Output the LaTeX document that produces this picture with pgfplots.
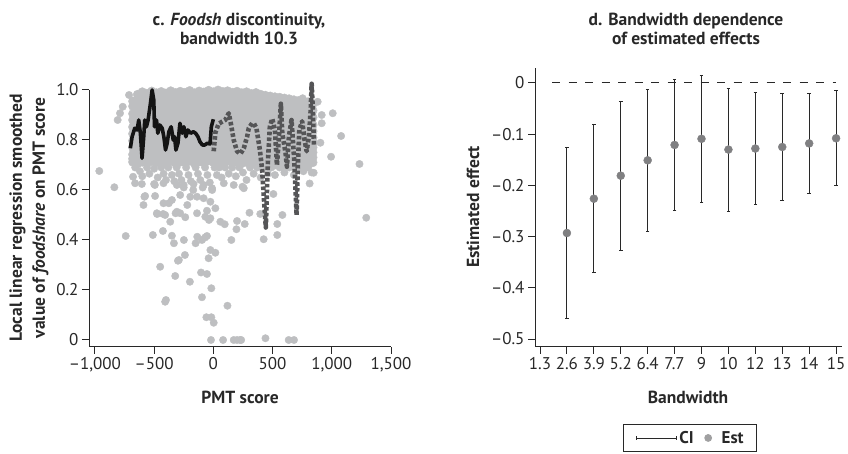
\documentclass[border=0pt]{standalone}
\usepackage{pgfplots}
\pgfplotsset{compat=1.18}
\usepackage{pgfplotstable}
\usepackage{fontspec}
\setmainfont{PT Sans}
\definecolor{scat}{RGB}{190,191,193}
\definecolor{dashg}{RGB}{85,85,87}
\definecolor{estg}{RGB}{128,128,130}
\definecolor{axg}{RGB}{40,40,40}

\pgfplotstableread{
x y1 y2 y3 y4 y5 y6 y7 y8 y9 y10 y11
-680 0.955 0.935 0.905 0.880 0.852 0.825 0.797 0.770 0.742 0.725 0.712
-640 0.982 0.958 0.930 0.903 0.875 0.848 0.818 0.790 0.762 0.735 0.705
-600 0.992 0.965 0.937 0.909 0.880 0.853 0.824 0.797 0.768 0.740 0.712
-560 0.986 0.959 0.931 0.904 0.876 0.847 0.820 0.791 0.763 0.736 0.707
-520 0.995 0.967 0.938 0.910 0.882 0.854 0.826 0.798 0.770 0.742 0.714
-480 0.988 0.960 0.932 0.905 0.877 0.849 0.821 0.793 0.765 0.737 0.709
-440 0.993 0.964 0.936 0.908 0.880 0.852 0.824 0.796 0.768 0.739 0.711
-400 0.987 0.961 0.933 0.905 0.876 0.848 0.820 0.792 0.764 0.736 0.706
-360 0.996 0.968 0.939 0.911 0.883 0.855 0.827 0.799 0.771 0.743 0.715
-320 0.989 0.962 0.934 0.906 0.878 0.850 0.822 0.794 0.766 0.738 0.708
-280 0.994 0.966 0.937 0.909 0.881 0.853 0.825 0.797 0.769 0.741 0.712
-240 0.990 0.963 0.935 0.907 0.879 0.851 0.823 0.795 0.767 0.739 0.710
-200 0.997 0.969 0.940 0.912 0.884 0.856 0.828 0.800 0.772 0.744 0.716
-160 0.988 0.961 0.933 0.905 0.877 0.849 0.821 0.793 0.765 0.737 0.707
-120 0.995 0.967 0.938 0.910 0.882 0.854 0.826 0.798 0.770 0.742 0.713
-80 0.991 0.963 0.935 0.907 0.879 0.851 0.823 0.795 0.767 0.739 0.709
-40 0.998 0.970 0.941 0.913 0.885 0.857 0.829 0.801 0.773 0.745 0.717
0 0.992 0.964 0.936 0.908 0.880 0.852 0.824 0.796 0.768 0.740 0.711
40 0.999 0.970 0.942 0.914 0.886 0.858 0.830 0.802 0.774 0.746 0.718
80 0.993 0.965 0.937 0.909 0.881 0.853 0.825 0.797 0.769 0.741 0.712
120 0.996 0.968 0.940 0.912 0.884 0.856 0.828 0.800 0.772 0.744 0.716
160 0.990 0.962 0.934 0.906 0.878 0.850 0.822 0.794 0.766 0.738 0.709
200 0.994 0.966 0.938 0.910 0.882 0.854 0.826 0.798 0.770 0.742 0.713
240 0.988 0.960 0.932 0.904 0.876 0.848 0.820 0.792 0.764 0.736 0.707
280 0.992 0.964 0.936 0.908 0.880 0.852 0.824 0.796 0.768 0.740 0.711
320 0.985 0.958 0.930 0.902 0.874 0.846 0.818 0.790 0.762 0.734 0.706
360 0.989 0.962 0.934 0.906 0.878 0.850 0.822 0.794 0.766 0.738 0.710
400 0.982 0.956 0.928 0.900 0.872 0.844 0.816 0.788 0.760 0.732 0.705
440 0.978 0.952 0.925 0.898 0.871 0.843 0.815 0.787 0.759 0.731 0.704
480 0.975 0.949 0.922 0.895 0.868 0.840 0.812 0.784 0.756 0.728 0.702
520 0.972 0.947 0.920 0.893 0.866 0.838 0.810 0.782 0.754 0.727 0.701
560 0.970 0.944 0.917 0.890 0.863 0.836 0.808 0.780 0.752 0.725 0.700
600 0.967 0.941 0.914 0.887 0.860 0.833 0.806 0.778 0.750 0.723 0.699
640 0.964 0.938 0.911 0.884 0.857 0.830 0.803 0.776 0.748 0.721 0.697
680 0.960 0.934 0.908 0.881 0.854 0.827 0.800 0.773 0.746 0.719 0.696
720 0.957 0.931 0.905 0.878 0.851 0.824 0.797 0.770 0.743 0.717 0.700
760 0.955 0.929 0.902 0.875 0.848 0.821 0.794 0.767 0.741 0.716 0.702
800 0.952 0.926 0.899 0.872 0.845 0.818 0.791 0.765 0.740 0.720 0.705
840 0.945 0.918 0.890 0.860 0.835 0.810 0.790 0.770 0.750 0.730 0.710
}\dense

\pgfplotstableread{
x y
-660 0.690
-620 0.675
-600 0.655
-560 0.690
-540 0.665
-500 0.685
-470 0.650
-440 0.690
-420 0.665
-400 0.640
-380 0.690
-350 0.660
-330 0.635
-310 0.690
-290 0.665
-270 0.640
-250 0.610
-230 0.690
-210 0.660
-190 0.635
-170 0.600
-150 0.690
-130 0.665
-110 0.640
-90 0.610
-70 0.690
-50 0.660
-30 0.630
-10 0.600
10 0.690
30 0.660
50 0.690
70 0.650
100 0.690
130 0.665
160 0.690
190 0.655
220 0.690
250 0.670
280 0.640
310 0.690
340 0.665
370 0.690
400 0.650
430 0.690
460 0.665
490 0.690
520 0.660
560 0.690
600 0.670
640 0.690
680 0.660
720 0.690
760 0.675
800 0.690
830 0.670
-963 0.676
-836 0.611
-740 0.416
-808 0.880
-765 0.933
-788 0.907
-712 0.980
-678 0.653
-661 0.627
-604 0.624
-582 0.573
-590 0.540
-576 0.576
-511 0.420
-500 0.624
-494 0.620
-492 0.576
-477 0.507
-475 0.504
-449 0.293
-426 0.436
-421 0.627
-421 0.547
-424 0.504
-407 0.153
-400 0.160
-407 0.500
-376 0.547
-364 0.473
-350 0.560
-350 0.417
-333 0.387
-322 0.256
-319 0.507
-308 0.620
-308 0.513
-299 0.317
-291 0.320
-280 0.580
-280 0.507
-251 0.620
-249 0.400
-240 0.340
-237 0.491
-220 0.540
-198 0.233
-195 0.573
-167 0.624
-150 0.387
-138 0.573
-138 0.507
-136 0.413
-104 0.270
-96 0.171
-96 0.400
-82 0.620
-82 0.567
-70 0.410
-68 0.493
-59 0.091
-54 0.264
-54 0.517
-54 0.416
-40 0.327
-37 0.480
-25 0.553
-25 0.487
-25 0.360
-17 0.207
-17 0.091
-11 0.607
3 0.069
17 0.527
17 0.349
-20 0.000
82 0.000
88 0.627
96 0.463
59 0.473
119 0.137
152 0.400
172 0.620
172 0.000
195 0.443
200 0.476
200 0.000
226 0.000
235 0.000
246 0.613
257 0.607
265 0.464
305 0.509
396 0.504
425 0.403
440 0.007
507 0.584
540 0.464
540 0.420
583 0.500
636 0.000
681 0.000
754 0.967
811 0.953
881 0.953
813 0.626
847 0.669
904 0.789
915 0.900
915 0.867
994 0.733
1008 0.907
1079 0.816
1234 0.704
1291 0.489
}\others

\pgfplotstableread{
x est ep em
1 -0.293 0.167 0.166
2 -0.226 0.146 0.144
3 -0.181 0.145 0.146
4 -0.151 0.138 0.139
5 -0.121 0.127 0.128
6 -0.109 0.123 0.124
7 -0.130 0.119 0.120
8 -0.128 0.110 0.110
9 -0.125 0.104 0.104
10 -0.118 0.097 0.098
11 -0.108 0.093 0.093
}\esttab

\begin{document}
\begin{tikzpicture}[font=\fontsize{17}{20}\selectfont]
\useasboundingbox (0,0) rectangle (848pt,454pt);
\begin{axis}[
  at={(89pt,107pt)}, anchor=south west, scale only axis,
  width=302pt, height=257pt,
  xmin=-1050, xmax=1500, ymin=-0.028, ymax=1.0,
  axis x line*=bottom, axis y line*=left,
  axis line style={axg, line width=1pt},
  tick style={axg, line width=1pt}, tick align=outside, major tick length=7pt,
  xtick={-1000,-500,0,500,1000,1500},
  xticklabels={{--1,000},{--500},0,500,{1,000},{1,500}},
  ytick={0,0.2,0.4,0.6,0.8,1.0},
  yticklabels={0,0.2,0.4,0.6,0.8,1.0},
  ticklabel style={font=\fontsize{17}{20}\selectfont, text=axg},
  clip=false, clip marker paths=true,
]
\pgfplotsinvokeforeach{1,...,11}{
  \addplot[only marks, mark=*, mark size=4.4pt, color=scat, mark options={draw=none, fill=scat}] table[x=x, y=y#1]{\dense};
}
\addplot[only marks, mark=*, mark size=3.7pt, color=scat, mark options={draw=none, fill=scat}] table[x=x, y=y]{\others};
\addplot[black!92, line width=3.6pt, line join=round] coordinates {
(-701,0.767) (-686,0.813) (-664,0.847) (-644,0.840) (-630,0.880) (-616,0.827) (-602,0.727)
(-588,0.813) (-579,0.880) (-565,0.853) (-551,0.880) (-531,0.947) (-517,1.000) (-503,0.960)
(-497,0.853) (-480,0.880) (-469,0.827) (-452,0.860) (-432,0.847) (-418,0.813) (-404,0.760)
(-390,0.787) (-376,0.833) (-356,0.853) (-339,0.800) (-328,0.813) (-316,0.760) (-299,0.787)
(-282,0.867) (-263,0.827) (-249,0.853) (-232,0.813) (-215,0.840) (-192,0.827) (-169,0.833)
(-150,0.827) (-130,0.813) (-113,0.793) (-93,0.780) (-73,0.780) (-51,0.787) (-28,0.784)
(-17,0.853) (0,0.883)
};
\addplot[dashg, line width=4.6pt, dash pattern=on 3.6pt off 2.2pt, line join=round] coordinates {
(3,0.755) (17,0.830) (45,0.865) (73,0.873) (100,0.880) (130,0.907) (150,0.860) (172,0.800)
(200,0.755) (229,0.745) (257,0.767) (285,0.813) (299,0.847) (328,0.867) (342,0.867) (364,0.847)
(393,0.760) (412,0.680) (426,0.573) (443,0.450) (460,0.707) (477,0.853) (497,0.885) (520,0.840)
(537,0.700) (554,0.813) (570,0.945) (582,0.827) (610,0.747) (621,0.693) (638,0.813) (660,0.880)
(681,0.733) (703,0.500) (712,0.680) (726,0.840) (750,0.875) (770,0.800) (788,0.755) (808,0.820)
(822,0.920) (830,1.025) (840,0.920) (850,0.775)
};
\end{axis}

\begin{axis}[
  at={(535pt,107pt)}, anchor=south west, scale only axis,
  width=307pt, height=279pt,
  xmin=-0.186, xmax=11.22, ymin=-0.5156, ymax=0.0293,
  axis x line*=bottom, axis y line*=left,
  axis line style={axg, line width=1pt},
  tick style={axg, line width=1pt}, tick align=outside, major tick length=7pt,
  xtick={0,...,11},
  xticklabels={1.3,2.6,3.9,5.2,6.4,7.7,9,10,12,13,14,15},
  ytick={-0.5,-0.4,-0.3,-0.2,-0.1,0},
  yticklabels={--0.5,--0.4,--0.3,--0.2,--0.1,0},
  ticklabel style={font=\fontsize{17}{20}\selectfont, text=axg},
  clip=false, clip marker paths=true,
  legend style={at={(0.505,-0.326)}, anchor=center, draw=axg, line width=0.9pt,
    legend columns=2, font=\fontsize{17}{20}\selectfont\bfseries, text=axg,
    inner xsep=11pt, inner ysep=5pt,
    /tikz/every even column/.append style={column sep=8.5pt}},
]
\addplot[axg, line width=1pt, dash pattern=on 8pt off 8.5pt, forget plot] coordinates {(0.45,0) (11,0)};
\addplot[only marks, mark=*, mark size=4pt, color=estg, mark options={draw=none, fill=estg}, forget plot,
  error bars/.cd, y dir=both, y explicit,
  error bar style={axg, line width=0.9pt},
  error mark options={rotate=90, mark size=1.8pt, axg, line width=0.9pt}]
  table[x=x, y=est, y error plus=ep, y error minus=em]{\esttab};
\addlegendimage{legend image code/.code={
  \path (-2pt,0pt) (40pt,0pt);
  \draw[axg, line width=0.9pt] (0pt,0pt) -- (40pt,0pt);
  \draw[axg, line width=0.9pt] (0pt,-2pt) -- (0pt,2pt) (40pt,-2pt) -- (40pt,2pt);}}
\addlegendentry{CI}
\addlegendimage{legend image code/.code={
  \path (-3.5pt,0pt) (11pt,0pt);
  \fill[estg!75] (0pt,0pt) circle (3.4pt);}}
\addlegendentry{Est}
\end{axis}

\node[anchor=base, font=\fontsize{17.5}{20}\selectfont\bfseries, text=axg] at (239pt,428pt) {c. \textit{Foodsh} discontinuity,};
\node[anchor=base, font=\fontsize{17.5}{20}\selectfont\bfseries, text=axg] at (239pt,409pt) {bandwidth 10.3};
\node[anchor=base, font=\fontsize{17.5}{20}\selectfont\bfseries, text=axg] at (686pt,428pt) {d. Bandwidth dependence};
\node[anchor=base, font=\fontsize{17.5}{20}\selectfont\bfseries, text=axg] at (686pt,409pt) {of estimated effects};
\node[anchor=base, font=\fontsize{17.5}{20}\selectfont\bfseries, text=axg] at (240pt,50pt) {PMT score};
\node[anchor=base, font=\fontsize{17.5}{20}\selectfont\bfseries, text=axg] at (688pt,50pt) {Bandwidth};
\node[rotate=90, align=center, font=\fontsize{17.5}{23}\selectfont\bfseries, text=axg] at (29pt,236pt) {Local linear regression smoothed\\value of \textit{foodshare} on PMT score};
\node[rotate=90, font=\fontsize{17.5}{20}\selectfont\bfseries, text=axg] at (473pt,247pt) {Estimated effect};
\end{tikzpicture}
\end{document}
